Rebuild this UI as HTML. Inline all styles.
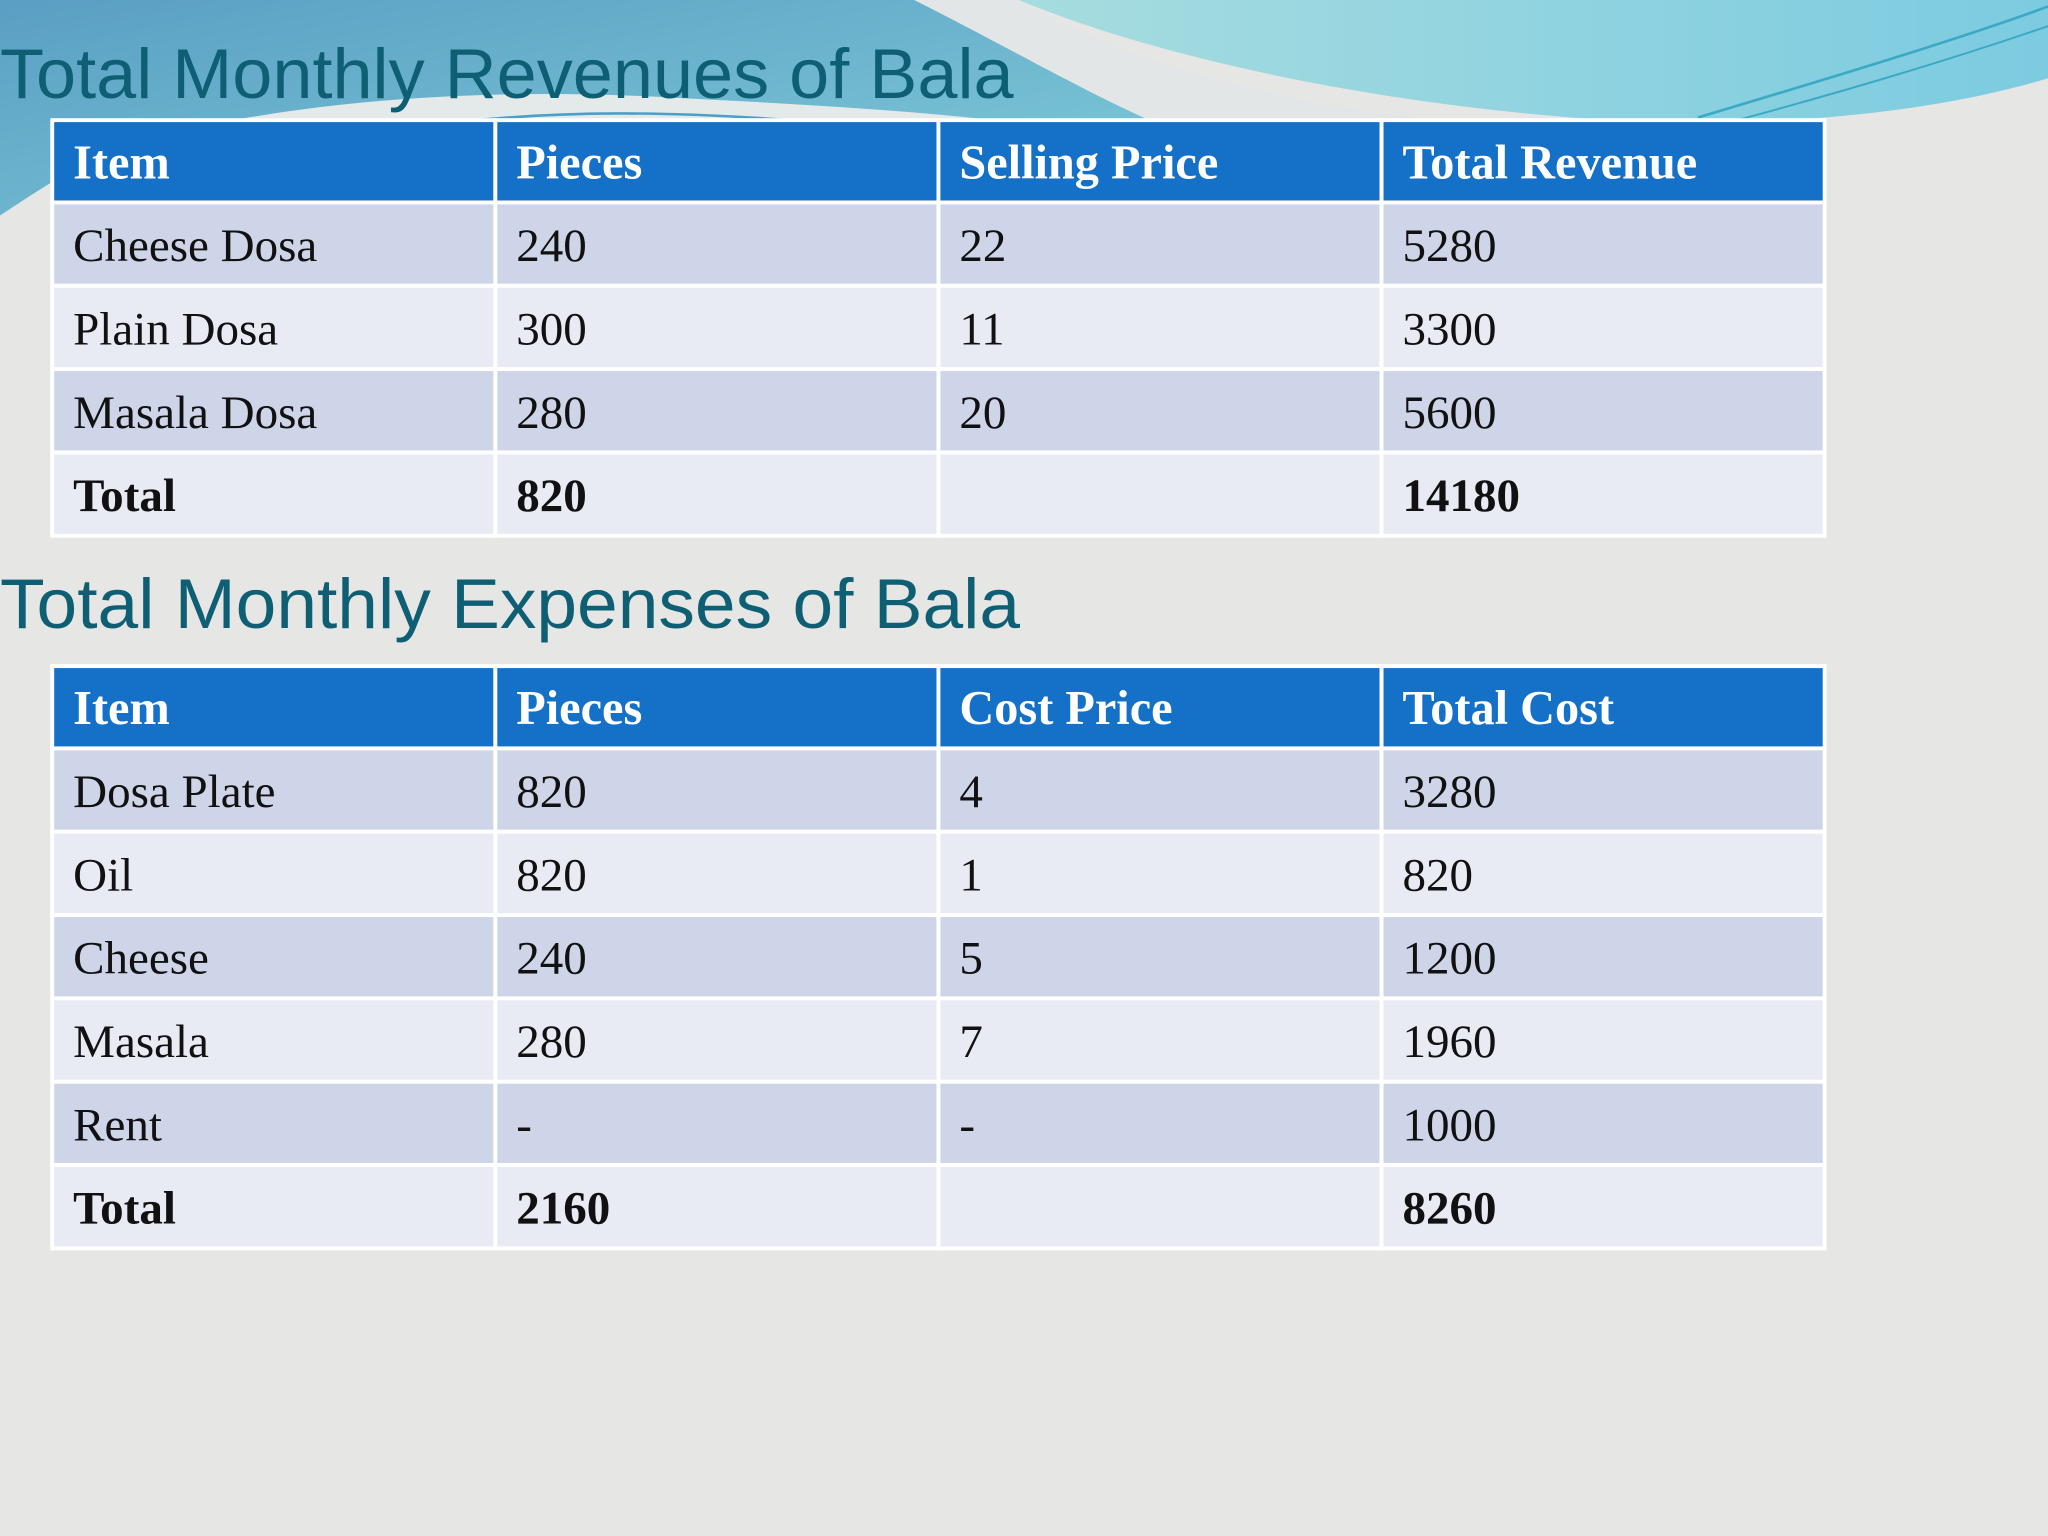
<!DOCTYPE html>
<html><head><meta charset="utf-8"><style>
html,body{margin:0;padding:0;background:#e6e6e4;}
svg{display:block}
.t{font-family:"Liberation Sans",sans-serif;fill:#0f5f74;font-size:54px}
.h{font-family:"Liberation Serif",serif;font-weight:bold;fill:#fff;font-size:37px}
.c{font-family:"Liberation Serif",serif;fill:#111;font-size:36px}
.b{font-weight:bold}
</style></head><body>
<svg width="2048" height="1536" viewBox="0 0 1568 1176" xmlns="http://www.w3.org/2000/svg">
<defs>
<linearGradient id="gl" x1="0" y1="0" x2="1" y2="1">
<stop offset="0" stop-color="#5a9fc4"/><stop offset="1" stop-color="#7fcbd8"/>
</linearGradient>
<linearGradient id="gr" x1="0" y1="0" x2="1" y2="0">
<stop offset="0" stop-color="#a6dcdf"/><stop offset="1" stop-color="#7ccbe0"/>
</linearGradient>
</defs>
<rect width="1568" height="1176" fill="#e6e6e4"/>
<g>
<path d="M0 0 H700 C760 30 830 70 880 92 H120 C70 120 30 145 0 165 Z" fill="url(#gl)"/>
<path d="M80 115 C200 80 350 65 520 75 C620 80 700 85 760 92 H100 Z" fill="#e4e9e9"/>
<path d="M330 96 C420 84 520 84 640 95" stroke="#4aa0c8" stroke-width="2" fill="none"/>
<path d="M340 100 C430 90 520 90 620 100" stroke="#4aa0c8" stroke-width="1.5" fill="none"/>
<path d="M700 0 H780 C850 40 950 75 1100 92 H880 C820 60 760 30 700 0 Z" fill="#e2e6e6"/>
<path d="M780 0 H1568 V60 C1500 80 1420 92 1300 95 C1100 90 900 50 780 0 Z" fill="url(#gr)"/>
<path d="M1300 90 C1400 60 1500 30 1568 5" stroke="#3aa9c4" stroke-width="2" fill="none"/>
<path d="M1330 92 C1430 65 1510 40 1568 20" stroke="#3aa9c4" stroke-width="1.5" fill="none"/>
</g>
<text class="t" x="0" y="75" textLength="776" lengthAdjust="spacingAndGlyphs">Total Monthly Revenues of Bala</text>
<g id="t1"></g>
<text class="t" x="0" y="481" textLength="781" lengthAdjust="spacingAndGlyphs">Total Monthly Expenses  of Bala</text>
<g id="t2"></g>
</svg>
<script>
const NS="http://www.w3.org/2000/svg";
const revHeader=["Item","Pieces","Selling Price","Total Revenue"];
const revRows=[["Cheese Dosa","240","22","5280"],["Plain Dosa","300","11","3300"],["Masala Dosa","280","20","5600"],["Total","820","","14180"]];
const expHeader=["Item","Pieces","Cost Price","Total Cost"];
const expRows=[["Dosa Plate","820","4","3280"],["Oil","820","1","820"],["Cheese","240","5","1200"],["Masala","280","7","1960"],["Rent","-","-","1000"],["Total","2160","","8260"]];
function build(g,header,rows,top){
  const x0=40,cw=339.25,hh=63,rh=63.8;
  const all=[header].concat(rows);
  all.forEach((r,i)=>{
    const y=i==0?top:top+hh+(i-1)*rh;
    const h=i==0?hh:rh;
    r.forEach((v,j)=>{
      const rc=document.createElementNS(NS,"rect");
      rc.setAttribute("x",x0+j*cw);rc.setAttribute("y",y);rc.setAttribute("width",cw);rc.setAttribute("height",h);
      rc.setAttribute("fill",i==0?"#1570c8":(i%2==1?"#cfd5e9":"#e8eaf4"));
      rc.setAttribute("stroke","#ffffff");rc.setAttribute("stroke-width","3");
      
      
      g.appendChild(rc);
      const t=document.createElementNS(NS,"text");
      t.setAttribute("x",x0+j*cw+16);t.setAttribute("y",y+h/2+13);
      let cls=i==0?"h":"c";
      if(i==all.length-1&&i>0)cls+=" b";
      t.setAttribute("class",cls);
      t.textContent=v;
      
      
      g.appendChild(t);
    });
  });
}
build(document.getElementById("t1"),revHeader,revRows,92);
build(document.getElementById("t2"),expHeader,expRows,510);
</script>
</body></html>
